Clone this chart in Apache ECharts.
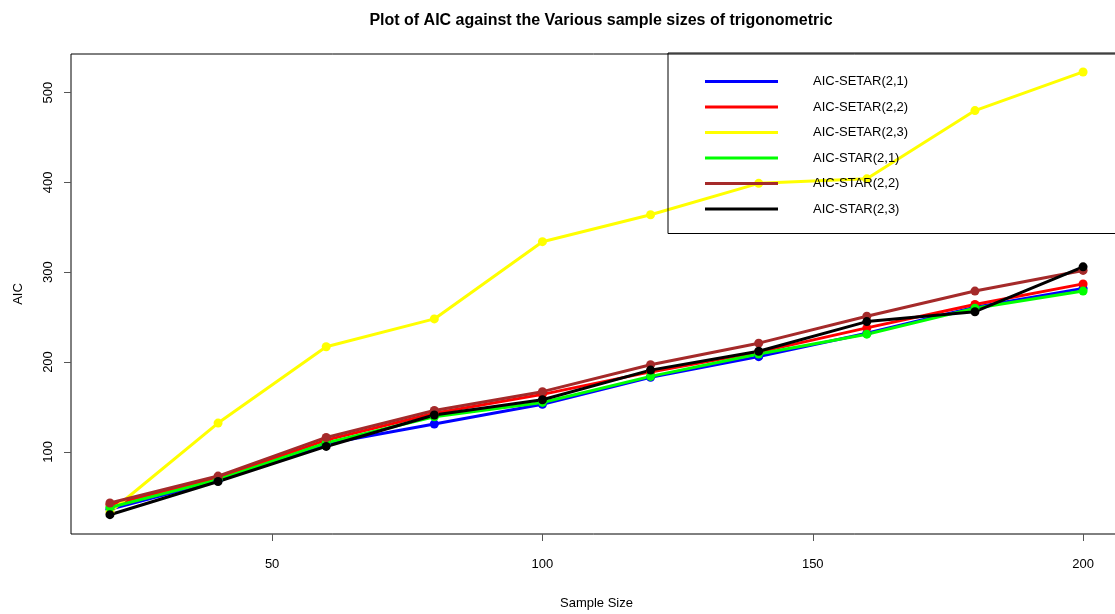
<!DOCTYPE html>
<html>
<head>
<meta charset="utf-8">
<script src="https://cdn.jsdelivr.net/npm/echarts@6/dist/echarts.min.js"></script>
<style>
  html, body { margin: 0; padding: 0; background: #fff; }
  #chart { width: 1115px; height: 614px; }
</style>
</head>
<body>
<div id="chart"></div>
<script>
// sample sizes on the x axis
var sampleSizes = [20, 40, 60, 80, 100, 120, 140, 160, 180, 200];

// AIC values
var setar21 = [36, 68, 109, 131, 153, 183, 206, 232, 261, 282];
var setar22 = [41, 71, 113, 143, 164, 189, 211, 238, 264, 287];
var setar23 = [33, 132, 217, 248, 334, 364, 399, 404, 480, 523];
var star21 = [38, 69, 110, 139, 155, 184, 209, 231, 260, 279];
var star22 = [43, 73, 116, 146, 167, 197, 221, 251, 279, 302];
var star23 = [30, 67, 106, 141, 158, 191, 212, 245, 256, 306];

var xTicks = [50, 100, 150, 200];
var yTicks = [100, 200, 300, 400, 500];

var font = 'Liberation Sans, Arial, sans-serif';

function pairs(vals) {
    return sampleSizes.map(function(x, i) { return [x, vals[i]]; });
}

function line(name, color, vals, width) {
    return {
        name: name,
        type: 'line',
        data: pairs(vals),
        symbol: 'circle',
        symbolSize: 9,
        showSymbol: true,
        lineStyle: { color: color, width: width || 3 },
        itemStyle: { color: color },
        animation: false
    };
}

var chart = echarts.init(document.getElementById('chart'));
chart.setOption({
    backgroundColor: '#fff',
    title: {
        text: 'Plot of AIC against the Various sample sizes of trigonometric',
        left: 596,
        textAlign: 'center',
        top: 8,
        textStyle: { fontFamily: font, fontWeight: 'bold', fontSize: 16, color: '#000' }
    },
    legend: {
        orient: 'vertical',
        left: 668,
        top: 53,
        padding: [22, 220, 18, 37],
        borderColor: '#000',
        borderWidth: 1,
        icon: 'rect',
        itemWidth: 73,
        itemHeight: 3,
        itemGap: 12.5,
        textStyle: { fontFamily: font, fontSize: 13, color: '#000', padding: [0, 0, 0, 30] },
        data: ['AIC-SETAR(2,1)', 'AIC-SETAR(2,2)', 'AIC-SETAR(2,3)', 'AIC-STAR(2,1)', 'AIC-STAR(2,2)', 'AIC-STAR(2,3)']
    },
    grid: {
        left: 71,
        top: 54,
        width: 1051,
        height: 480,
        outerBoundsMode: 'none',
        containLabel: false,
        show: true,
        borderColor: '#000',
        borderWidth: 1,
        backgroundColor: 'transparent'
    },
    xAxis: {
        type: 'value',
        min: 12.8,
        max: 207.2,
        name: 'Sample Size',
        nameLocation: 'middle',
        nameGap: 63,
        nameTextStyle: { fontFamily: font, fontSize: 13, color: '#000' },
        axisLine: { show: false },
        splitLine: { show: false },
        axisTick: { show: true, customValues: xTicks, length: 7, lineStyle: { color: '#555' } },
        axisLabel: { customValues: xTicks, margin: 24, fontFamily: font, fontSize: 13, color: '#000' }
    },
    yAxis: {
        type: 'value',
        min: 8.5,
        max: 543,
        name: 'AIC',
        nameLocation: 'middle',
        nameRotate: 90,
        nameGap: 46,
        nameTextStyle: { fontFamily: font, fontSize: 13, color: '#000' },
        axisLine: { show: false },
        splitLine: { show: false },
        axisTick: { show: true, customValues: yTicks, length: 7, lineStyle: { color: '#555' } },
        axisLabel: { customValues: yTicks, rotate: 90, margin: 16, fontFamily: font, fontSize: 13, color: '#000' }
    },
    series: [
        line('AIC-SETAR(2,1)', '#0000ff', setar21),
        line('AIC-SETAR(2,2)', '#ff0000', setar22),
        line('AIC-SETAR(2,3)', '#ffff00', setar23),
        line('AIC-STAR(2,1)', '#00ff00', star21),
        line('AIC-STAR(2,2)', '#a52a2a', star22),
        line('AIC-STAR(2,3)', '#000000', star23)
    ]
});
</script>
</body>
</html>
